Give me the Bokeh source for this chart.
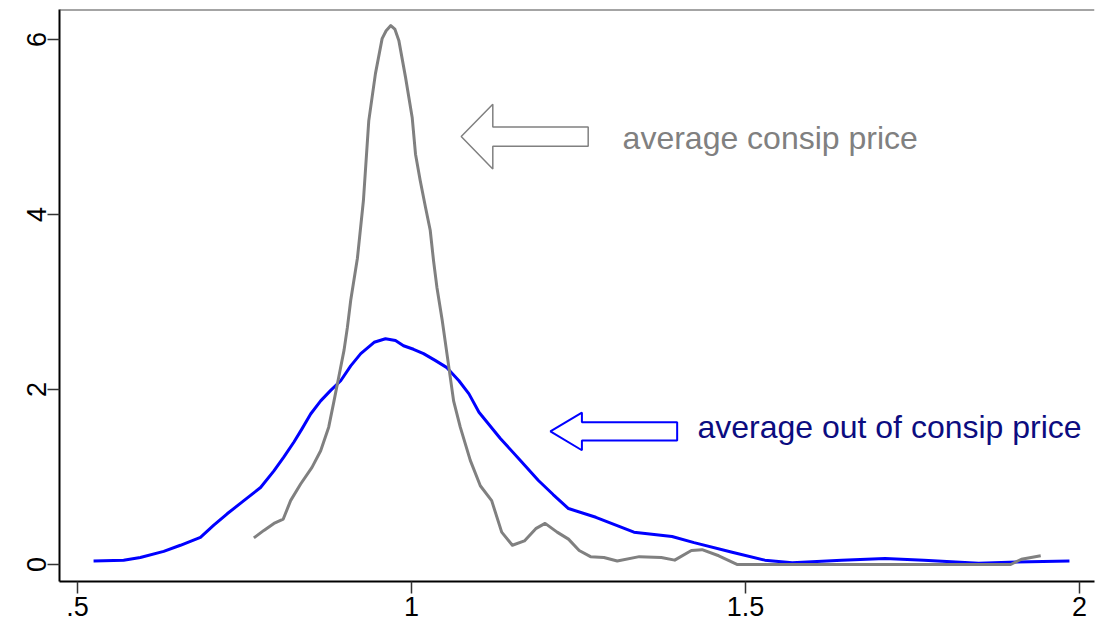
from bokeh.plotting import figure
from bokeh.models import Range1d, FixedTicker, Span, PolyAnnotation, Label
from bokeh.embed import file_html
from bokeh.resources import INLINE

# --- data ---
consip_x = [0.764, 0.779, 0.794, 0.808, 0.819, 0.834, 0.851, 0.864, 0.876, 0.884,
            0.891, 0.899, 0.904, 0.909, 0.919, 0.928, 0.936, 0.946, 0.956, 0.962,
            0.969, 0.975, 0.981, 0.991, 1.001, 1.006, 1.013, 1.021, 1.028, 1.033,
            1.038, 1.046, 1.056, 1.063, 1.073, 1.088, 1.103, 1.120, 1.135, 1.151,
            1.169, 1.186, 1.200, 1.218, 1.235, 1.251, 1.268, 1.288, 1.308, 1.341,
            1.374, 1.394, 1.419, 1.435, 1.460, 1.488, 1.600, 1.700, 1.800, 1.897,
            1.913, 1.942]
consip_y = [0.305, 0.39, 0.47, 0.52, 0.73, 0.92, 1.11, 1.30, 1.57, 1.87,
            2.14, 2.45, 2.71, 3.02, 3.50, 4.16, 5.07, 5.61, 6.01, 6.10,
            6.16, 6.12, 5.99, 5.57, 5.11, 4.69, 4.39, 4.08, 3.82, 3.47,
            3.17, 2.79, 2.25, 1.87, 1.57, 1.19, 0.90, 0.73, 0.37, 0.22,
            0.27, 0.41, 0.47, 0.37, 0.29, 0.16, 0.09, 0.08, 0.04, 0.09,
            0.08, 0.05, 0.16, 0.17, 0.10, 0.0, 0.0, 0.0, 0.0, 0.0,
            0.06, 0.10]

out_x = [0.524, 0.569, 0.594, 0.629, 0.654, 0.684, 0.704, 0.724, 0.749, 0.774,
         0.794, 0.809, 0.824, 0.836, 0.849, 0.864, 0.879, 0.894, 0.909, 0.924,
         0.944, 0.961, 0.976, 0.988, 1.003, 1.018, 1.036, 1.053, 1.071, 1.086,
         1.101, 1.133, 1.163, 1.190, 1.212, 1.235, 1.276, 1.333, 1.390, 1.423,
         1.480, 1.529, 1.570, 1.644, 1.709, 1.767, 1.849, 1.906, 1.985]
out_y = [0.04, 0.05, 0.08, 0.15, 0.22, 0.31, 0.45, 0.58, 0.73, 0.88,
         1.07, 1.23, 1.40, 1.55, 1.72, 1.87, 1.99, 2.10, 2.27, 2.41,
         2.54, 2.58, 2.56, 2.50, 2.46, 2.41, 2.33, 2.25, 2.10, 1.95,
         1.74, 1.44, 1.19, 0.96, 0.80, 0.64, 0.54, 0.37, 0.32, 0.25,
         0.14, 0.05, 0.02, 0.05, 0.07, 0.05, 0.015, 0.03, 0.04]

x_ticks = [0.5, 1.0, 1.5, 2.0]
x_tick_labels = {0.5: ".5", 1.0: "1", 1.5: "1.5", 2.0: "2"}
y_ticks = [0, 2, 4, 6]

label_consip = "average consip price"
label_out = "average out of consip price"

GRAY = "#808080"
BLUE = "#0000ff"
NAVY = "#0c0c80"
FONT = "Liberation Sans"

Y_TOP = 6.343
p = figure(width=1095, height=629, output_backend="svg", toolbar_location=None,
           x_range=Range1d(0.473, 2.0225), y_range=Range1d(-0.194, Y_TOP),
           min_border_left=59, min_border_right=1, min_border_top=9, min_border_bottom=48)

p.background_fill_color = "white"
p.border_fill_color = "white"
p.outline_line_color = None
p.xgrid.visible = False
p.ygrid.visible = False

p.add_layout(Span(location=Y_TOP, dimension="width", line_color="#4a4a4a", line_width=2))

for ax in (p.xaxis[0], p.yaxis[0]):
    ax.axis_line_color = "black"
    ax.axis_line_width = 2
    ax.major_tick_line_color = "#333333"
    ax.major_tick_line_width = 1.5
    ax.major_tick_out = 12
    ax.major_tick_in = 0
    ax.minor_tick_line_color = None
    ax.major_label_text_font = FONT
    ax.major_label_text_font_size = "27px"
    ax.major_label_text_color = "black"

p.xaxis.ticker = FixedTicker(ticks=x_ticks)
p.xaxis.major_label_overrides = x_tick_labels
p.xaxis.major_label_standoff = 3
p.yaxis.ticker = FixedTicker(ticks=y_ticks)
p.yaxis.major_label_orientation = "vertical"
p.yaxis.major_label_standoff = 1

p.line(out_x, out_y, line_color=BLUE, line_width=3, line_join="round")
p.line(consip_x, consip_y, line_color=GRAY, line_width=3, line_join="round")

# hollow arrows
def arrow(tip_x, tip_y, head_x, half_head, body_right, half_body, color, width):
    xs = [tip_x, head_x, head_x, body_right, body_right, head_x, head_x]
    ys = [tip_y, tip_y + half_head, tip_y + half_body, tip_y + half_body,
          tip_y - half_body, tip_y - half_body, tip_y - half_head]
    p.add_layout(PolyAnnotation(xs=xs, ys=ys, fill_color=None, fill_alpha=0,
                                line_color=color, line_alpha=1.0, line_width=width))

arrow(1.0744, 4.891, 1.1217, 0.37, 1.2645, 0.11, GRAY, 1.5)
arrow(1.2079, 1.521, 1.2551, 0.215, 1.3977, 0.105, BLUE, 2)

p.add_layout(Label(x=1.316, y=4.88, text=label_consip, text_font=FONT,
                   text_font_size="32px", text_color=GRAY, text_baseline="alphabetic"))
p.add_layout(Label(x=1.428, y=1.566, text=label_out, text_font=FONT,
                   text_font_size="32px", text_color=NAVY, text_baseline="alphabetic"))

open("out.html", "w").write(file_html(p, INLINE))
